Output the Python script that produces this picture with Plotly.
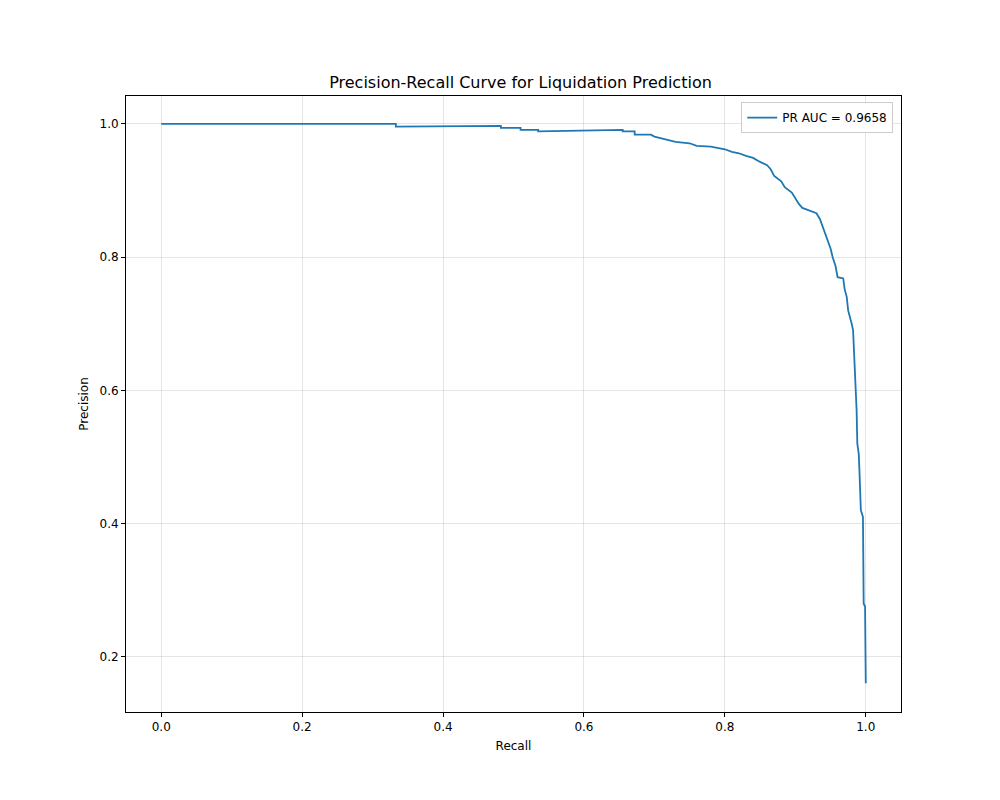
import plotly.graph_objects as go

recall = [0,0.333,0.333,0.482,0.482,0.51,0.51,0.535,0.535,0.655,0.655,0.672,0.672,0.695,0.70,0.715,0.73,0.75,0.76,0.78,0.79,0.80,0.81,0.82,0.83,0.84,0.85,0.86,0.865,0.87,0.88,0.885,0.895,0.90,0.905,0.91,0.92,0.93,0.935,0.94,0.945,0.95,0.953,0.957,0.96,0.968,0.97,0.973,0.975,0.978,0.98,0.982,0.983,0.985,0.986,0.987,0.988,0.99,0.991,0.993,0.996,0.997,0.999,1.0]
precision = [1.0,1.0,0.996,0.997,0.994,0.994,0.991,0.991,0.989,0.991,0.989,0.989,0.984,0.984,0.981,0.977,0.973,0.971,0.967,0.966,0.964,0.962,0.958,0.956,0.952,0.949,0.943,0.938,0.932,0.922,0.914,0.905,0.897,0.888,0.880,0.874,0.870,0.866,0.857,0.842,0.828,0.813,0.80,0.787,0.77,0.768,0.752,0.74,0.72,0.71,0.70,0.69,0.665,0.63,0.615,0.57,0.52,0.505,0.48,0.42,0.41,0.28,0.275,0.16]

fig = go.Figure(go.Scatter(x=recall, y=precision, mode="lines", name="PR AUC = 0.9658",
                           line=dict(color="#1f77b4", width=1.8)))
ax = dict(showline=True, mirror=True, linecolor="black", linewidth=1, ticks="outside",
          ticklen=4, tickcolor="black", showgrid=True, gridcolor="rgba(0,0,0,0.1)",
          zeroline=False, tickfont=dict(size=12, color="black"))
fig.update_layout(
    width=1000, height=800, plot_bgcolor="white", paper_bgcolor="white",
    font=dict(family="DejaVu Sans", color="black"),
    margin=dict(l=118, r=107, t=88, b=96),
    title=dict(text="Precision-Recall Curve for Liquidation Prediction", x=0.5125, xanchor="center",
               y=1-74/800, yanchor="middle", font=dict(size=16)),
    xaxis=dict(ax, range=[-0.05, 1.05], tickvals=[0,0.2,0.4,0.6,0.8,1.0], ticktext=["0.0","0.2","0.4","0.6","0.8","1.0"],
               title=dict(text="Recall", font=dict(size=12), standoff=8)),
    yaxis=dict(ax, range=[0.117, 1.042], tickvals=[0.2,0.4,0.6,0.8,1.0], ticktext=["0.2","0.4","0.6","0.8","1.0"],
               title=dict(text="Precision", font=dict(size=12), standoff=8)),
    showlegend=True,
    legend=dict(x=0.99, y=0.99, xanchor="right", yanchor="top", bgcolor="white",
                bordercolor="#cccccc", borderwidth=1, font=dict(size=12)),
)
fig.write_html("out.html")
